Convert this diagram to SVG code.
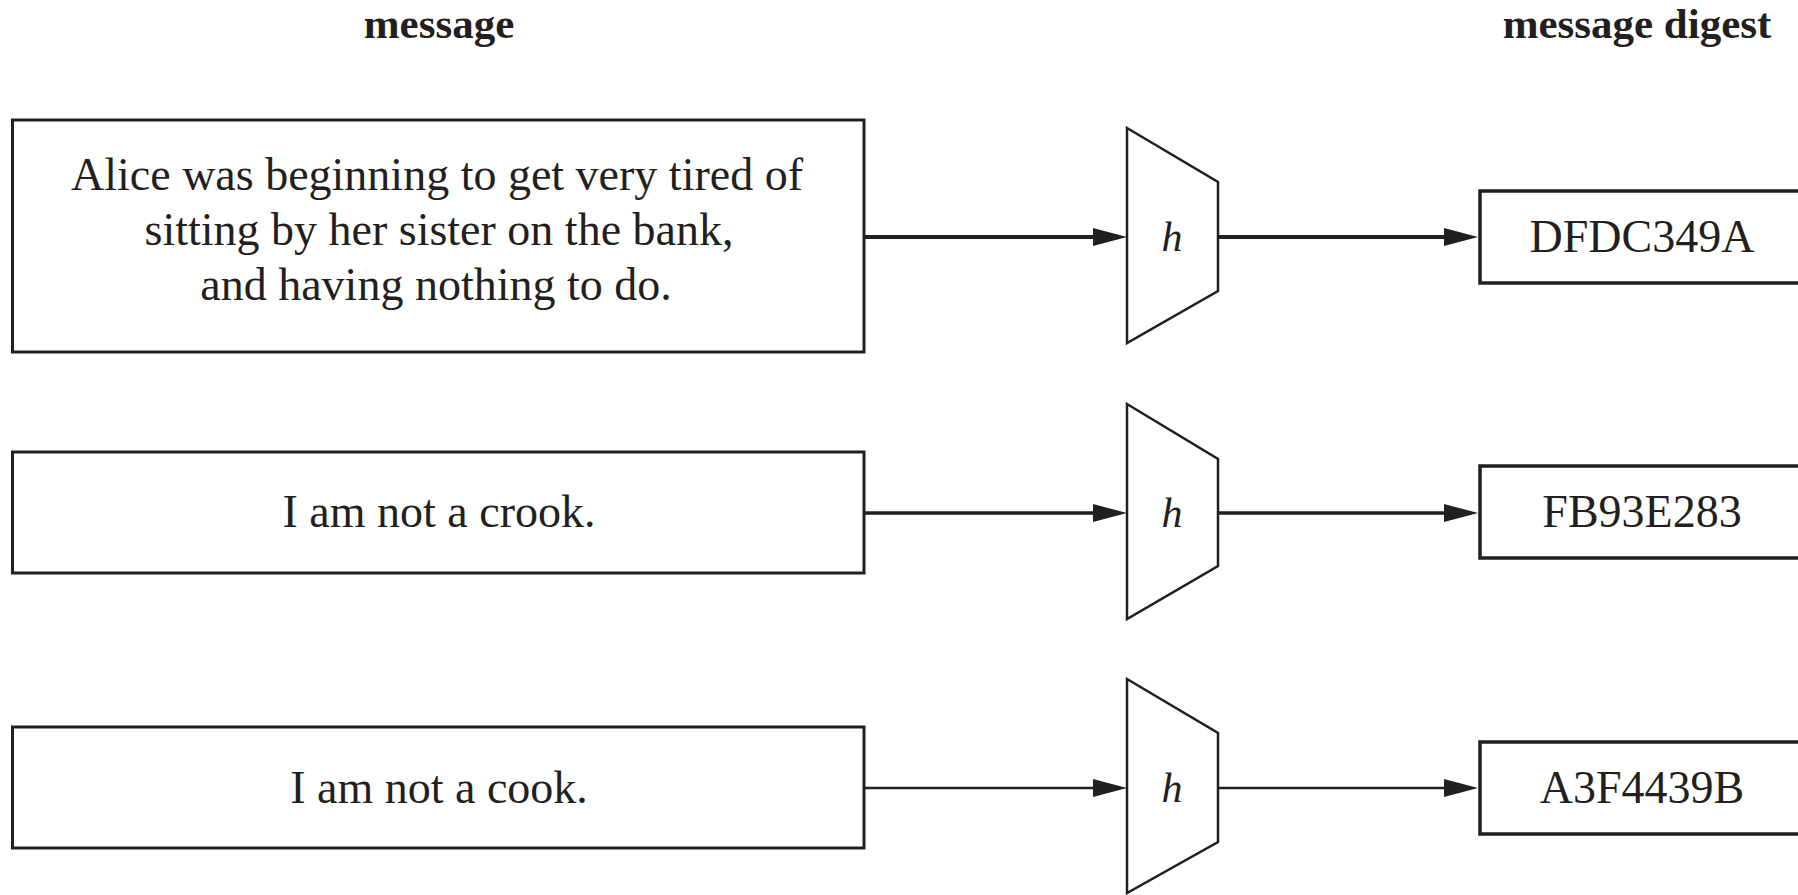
<svg xmlns="http://www.w3.org/2000/svg" width="1798" height="895" viewBox="0 0 1798 895">
<style>
  .box { fill: #fff; stroke: #231f20; stroke-width: 3; }
  .dig { fill: #fff; stroke: #231f20; stroke-width: 3.5; }
  .trap { fill: #fff; stroke: #231f20; stroke-width: 2.5; stroke-linejoin: miter; }
  .txt { font-family: "Liberation Serif", "Times New Roman", serif; font-size: 46px; fill: #231f20; text-anchor: middle; }
  .title { font-family: "Liberation Serif", "Times New Roman", serif; font-size: 43px; font-weight: bold; fill: #231f20; text-anchor: middle; }
  .h { font-family: "Liberation Serif", "Times New Roman", serif; font-size: 42px; font-style: italic; fill: #231f20; text-anchor: middle; }
  .conn { stroke: #231f20; fill: none; marker-end: url(#arr); }
</style>
<defs>
  <marker id="arr" viewBox="0 0 34 18" markerWidth="34" markerHeight="18" refX="14" refY="9" markerUnits="userSpaceOnUse" orient="auto">
    <path d="M0,0 L34,9 L0,18 Z" fill="#231f20"/>
  </marker>
</defs>
<rect width="1798" height="895" fill="#fff"/>
<g id="titles">
  <text class="title" x="439" y="38">message</text>
  <text class="title" x="1637" y="38">message digest</text>
</g>
<g id="msg1">
  <rect class="box" x="12.5" y="120" width="851.5" height="232"/>
  <text class="txt" x="437" y="190">Alice was beginning to get very tired of</text>
  <text class="txt" x="439" y="245">sitting by her sister on the bank,</text>
  <text class="txt" x="436" y="300">and having nothing to do.</text>
</g>
<g id="msg2">
  <rect class="box" x="12.5" y="452" width="851.5" height="121"/>
  <text class="txt" x="439" y="527">I am not a crook.</text>
</g>
<g id="msg3">
  <rect class="box" x="12.5" y="727" width="851.5" height="121"/>
  <text class="txt" x="439" y="803">I am not a cook.</text>
</g>
<g id="h1">
  <path class="trap" d="M1127,128 L1218,182 L1218,291 L1127,343 Z"/>
  <text class="h" x="1172" y="251">h</text>
</g>
<g id="h2">
  <path class="trap" d="M1127,404 L1218,459 L1218,566 L1127,619 Z"/>
  <text class="h" x="1172" y="527">h</text>
</g>
<g id="h3">
  <path class="trap" d="M1127,679 L1218,733 L1218,842 L1127,893 Z"/>
  <text class="h" x="1172" y="802">h</text>
</g>
<g id="d1">
  <rect class="dig" x="1480" y="191" width="340" height="92"/>
  <text class="txt" x="1642" y="252">DFDC349A</text>
</g>
<g id="d2">
  <rect class="dig" x="1480" y="466" width="340" height="92"/>
  <text class="txt" x="1642" y="527">FB93E283</text>
</g>
<g id="d3">
  <rect class="dig" x="1480" y="742" width="340" height="92"/>
  <text class="txt" x="1642" y="803">A3F4439B</text>
</g>
<g id="connectors">
  <line class="conn" x1="865" y1="237" x2="1107" y2="237" stroke-width="4"/>
  <line class="conn" x1="1219" y1="237" x2="1458" y2="237" stroke-width="4"/>
  <line class="conn" x1="865" y1="513" x2="1107" y2="513" stroke-width="3.5"/>
  <line class="conn" x1="1219" y1="513" x2="1458" y2="513" stroke-width="3.5"/>
  <line class="conn" x1="865" y1="788" x2="1107" y2="788" stroke-width="2.5"/>
  <line class="conn" x1="1219" y1="788" x2="1458" y2="788" stroke-width="2.5"/>
</g>
</svg>
